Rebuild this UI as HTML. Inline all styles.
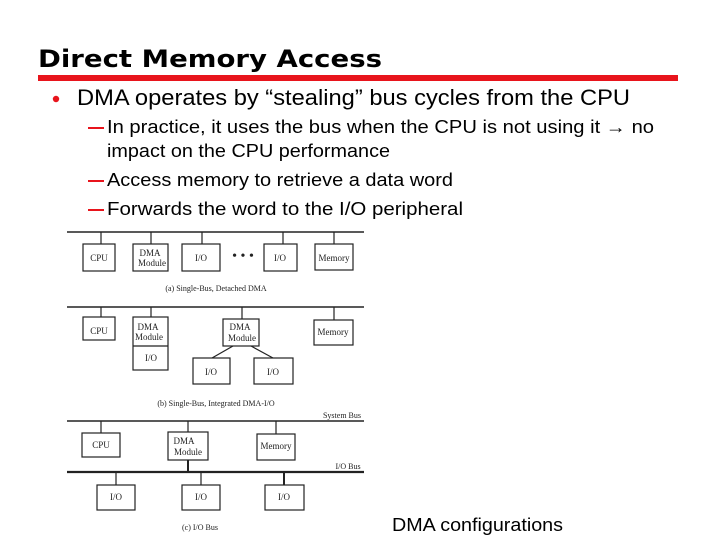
<!DOCTYPE html>
<html><head><style>
html,body{margin:0;padding:0;background:#fff;}
svg{display:block;}
</style></head><body>
<svg width="720" height="540" viewBox="0 0 720 540" xmlns="http://www.w3.org/2000/svg">
<rect width="720" height="540" fill="#fff"/>
<text x="38" y="67" font-family="DejaVu Sans, sans-serif" font-weight="bold" font-size="24" textLength="344" lengthAdjust="spacingAndGlyphs">Direct Memory Access</text>
<rect x="38" y="75" width="640" height="6" fill="#e8141c"/>
<circle cx="56" cy="99" r="3.2" fill="#e8141c"/>
<g font-family="Liberation Sans, sans-serif" fill="#000">
<text x="77" y="105" font-size="22" textLength="553" lengthAdjust="spacingAndGlyphs">DMA operates by “stealing” bus cycles from the CPU</text>
<g font-size="18">
<text x="107" y="133" textLength="547" lengthAdjust="spacingAndGlyphs">In practice, it uses the bus when the CPU is not using it → no</text>
<text x="107" y="157" textLength="283" lengthAdjust="spacingAndGlyphs">impact on the CPU performance</text>
<text x="107" y="186" textLength="346" lengthAdjust="spacingAndGlyphs">Access memory to retrieve a data word</text>
<text x="107" y="215" textLength="356" lengthAdjust="spacingAndGlyphs">Forwards the word to the I/O peripheral</text>
<text x="392" y="531" textLength="171" lengthAdjust="spacingAndGlyphs">DMA configurations</text>
</g>
</g>
<g fill="#e8141c"><rect x="88" y="127" width="16" height="2"/><rect x="88" y="180" width="16" height="2"/><rect x="88" y="209" width="16" height="2"/></g>

<g stroke="#222" stroke-width="1.2" fill="none">
<!-- (a) -->
<line x1="67" y1="232" x2="364" y2="232" stroke-width="1.6"/>
<line x1="101" y1="232" x2="101" y2="244"/><line x1="151" y1="232" x2="151" y2="244"/><line x1="202" y1="232" x2="202" y2="244"/><line x1="283" y1="232" x2="283" y2="244"/><line x1="334" y1="232" x2="334" y2="244"/>
<rect x="83" y="244" width="32" height="27"/><rect x="133" y="244" width="35" height="27"/><rect x="182" y="244" width="38" height="27"/><rect x="264" y="244" width="33" height="27"/><rect x="315" y="244" width="38" height="26"/>
<!-- (b) -->
<line x1="67" y1="307" x2="364" y2="307" stroke-width="1.6"/>
<line x1="101" y1="307" x2="101" y2="317"/><line x1="151" y1="307" x2="151" y2="317"/><line x1="242" y1="307" x2="242" y2="319"/><line x1="334" y1="307" x2="334" y2="320"/>
<rect x="83" y="317" width="32" height="23"/><rect x="133" y="317" width="35" height="53"/><line x1="133" y1="346" x2="168" y2="346"/>
<rect x="223" y="319" width="36" height="27"/><rect x="314" y="320" width="39" height="25"/>
<line x1="233" y1="346" x2="212" y2="358"/><line x1="251" y1="346" x2="273" y2="358"/>
<rect x="193" y="358" width="37" height="26"/><rect x="254" y="358" width="39" height="26"/>
<!-- (c) -->
<line x1="67" y1="421" x2="364" y2="421" stroke-width="1.6"/>
<line x1="101" y1="421" x2="101" y2="433"/><line x1="188" y1="421" x2="188" y2="432"/><line x1="276" y1="421" x2="276" y2="434"/>
<rect x="82" y="433" width="38" height="24"/><rect x="168" y="432" width="40" height="28"/><rect x="257" y="434" width="38" height="26"/>
<line x1="67" y1="472" x2="364" y2="472" stroke-width="2.2"/>
<line x1="188" y1="460" x2="188" y2="472" stroke-width="2"/>
<line x1="116" y1="472" x2="116" y2="485"/><line x1="201" y1="472" x2="201" y2="485"/><line x1="284" y1="472" x2="284" y2="485" stroke-width="2"/>
<rect x="97" y="485" width="38" height="25"/><rect x="182" y="485" width="38" height="25"/><rect x="265" y="485" width="39" height="25"/>
</g>
<g font-family="Liberation Serif, serif" font-size="9" fill="#222" text-anchor="middle">
<text x="99" y="261">CPU</text><text x="150" y="256">DMA</text><text x="152" y="266">Module</text><text x="201" y="261">I/O</text><text x="280" y="261">I/O</text><text x="334" y="261">Memory</text>
<text x="243" y="260" font-size="14">• • •</text>
<text x="216" y="291" font-size="8">(a) Single-Bus, Detached DMA</text>
<text x="99" y="334">CPU</text><text x="148" y="330">DMA</text><text x="149" y="340">Module</text><text x="151" y="361">I/O</text>
<text x="240" y="330">DMA</text><text x="242" y="341">Module</text><text x="333" y="335">Memory</text>
<text x="211" y="375">I/O</text><text x="273" y="375">I/O</text>
<text x="216" y="406" font-size="8">(b) Single-Bus, Integrated DMA-I/O</text>
<text x="342" y="418" font-size="8">System Bus</text>
<text x="101" y="448">CPU</text><text x="184" y="444">DMA</text><text x="188" y="455">Module</text><text x="276" y="449">Memory</text>
<text x="348" y="469" font-size="8">I/O Bus</text>
<text x="116" y="500">I/O</text><text x="201" y="500">I/O</text><text x="284" y="500">I/O</text>
<text x="200" y="530" font-size="8">(c) I/O Bus</text>
</g>
</svg>
</body></html>
